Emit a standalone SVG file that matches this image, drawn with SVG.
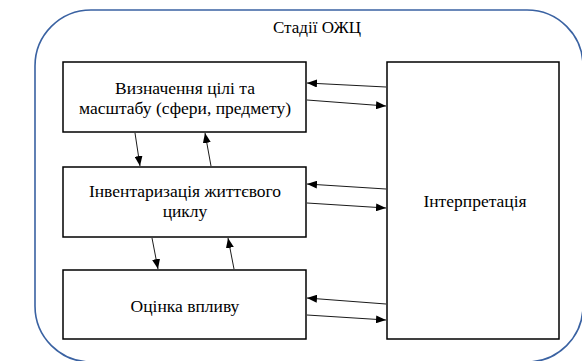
<svg xmlns="http://www.w3.org/2000/svg" width="582" height="361" viewBox="0 0 582 361">
<defs>
<style>
.box{fill:#fff;stroke:#000;stroke-width:1.5}
.t{font-family:"Liberation Serif","Times New Roman",serif;font-size:17.5px;fill:#000;text-anchor:middle}
.c{stroke:#000;stroke-width:0.9;fill:none;marker-end:url(#ah)}
</style>
<marker id="ah" viewBox="0 0 10 8" refX="10" refY="4" markerWidth="10" markerHeight="8" markerUnits="userSpaceOnUse" orient="auto">
<path d="M0,0 L10,4 L0,8 Z" fill="#000"/>
</marker>
</defs>
<rect id="frame" x="35" y="10" width="548" height="352" rx="56" ry="56" fill="#fff" stroke="#3a62a2" stroke-width="1.6"/>
<text class="t" x="317" y="33" style="font-size:17px">Стадії ОЖЦ</text>
<g id="n1">
<rect class="box" x="63" y="62" width="243" height="70"/>
<text class="t" x="185" y="94">Визначення цілі та</text>
<text class="t" x="185" y="114">масштабу (сфери, предмету)</text>
</g>
<g id="n2">
<rect class="box" x="63" y="167" width="243" height="70"/>
<text class="t" x="185" y="197">Інвентаризація життєвого</text>
<text class="t" x="185" y="217">циклу</text>
</g>
<g id="n3">
<rect class="box" x="63" y="270" width="243" height="69"/>
<text class="t" x="185" y="312">Оцінка впливу</text>
</g>
<g id="n4">
<rect class="box" x="387" y="62" width="172" height="277"/>
<text class="t" x="475" y="207">Інтерпретація</text>
</g>
<g id="connectors">
<line class="c" x1="135" y1="133" x2="140" y2="166"/>
<line class="c" x1="211" y1="166" x2="205" y2="133"/>
<line class="c" x1="152" y1="238" x2="158" y2="269"/>
<line class="c" x1="234" y1="269" x2="228" y2="238"/>
<line class="c" x1="386" y1="87" x2="307" y2="83"/>
<line class="c" x1="307" y1="100" x2="386" y2="106"/>
<line class="c" x1="386" y1="189" x2="307" y2="184"/>
<line class="c" x1="307" y1="203" x2="386" y2="208"/>
<line class="c" x1="386" y1="304" x2="307" y2="298"/>
<line class="c" x1="307" y1="315" x2="386" y2="320"/>
</g>
</svg>
